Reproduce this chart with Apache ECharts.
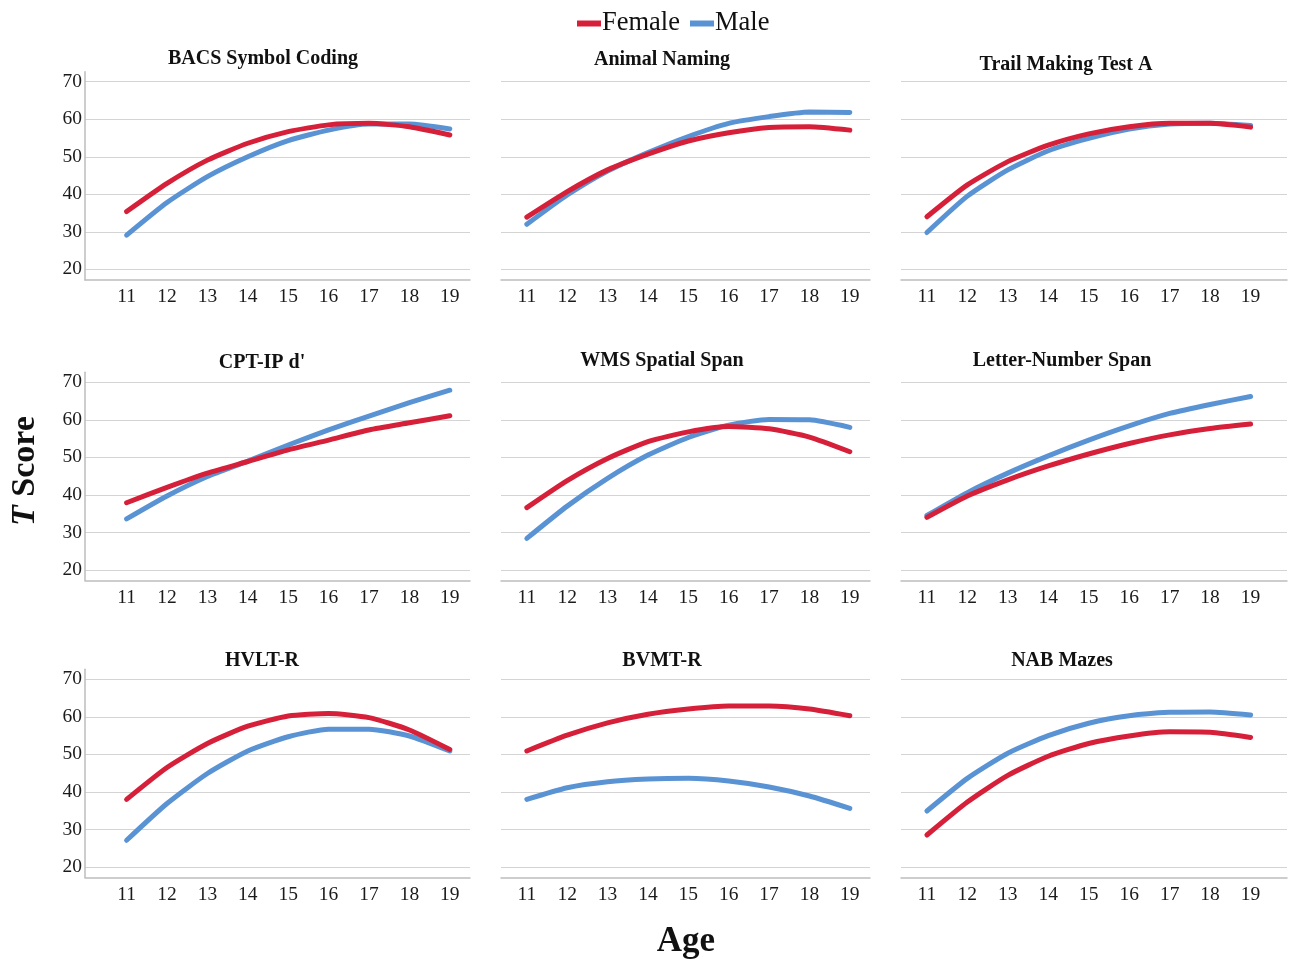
<!DOCTYPE html>
<html>
<head>
<meta charset="utf-8">
<script src="https://cdn.jsdelivr.net/npm/echarts@6/dist/echarts.min.js"></script>
<style>
html,body{margin:0;padding:0;background:#fff;}
#chart{width:1290px;height:960px;}
</style>
</head>
<body>
<div id="chart"></div>
<script>
// ---- data ----
const ages = [11, 12, 13, 14, 15, 16, 17, 18, 19];
const yTicks = [20, 30, 40, 50, 60, 70];
const panelTitles = ["BACS Symbol Coding", "Animal Naming", "Trail Making Test A",
  "CPT-IP d'", "WMS Spatial Span", "Letter-Number Span",
  "HVLT-R", "BVMT-R", "NAB Mazes"];
const seriesNames = ["Female", "Male"];

const femaleBACS   = [35.4, 42.9, 49.1, 53.6, 56.7, 58.5, 58.9, 58.0, 55.8];
const maleBACS     = [29.1, 37.8, 44.7, 50.0, 54.3, 57.1, 58.7, 58.7, 57.4];
const femaleAnimal = [33.9, 40.7, 46.5, 50.7, 54.2, 56.4, 57.8, 58.0, 57.1];
const maleAnimal   = [32.0, 39.8, 46.2, 51.1, 55.4, 58.9, 60.7, 61.9, 61.8];
const femaleTrail  = [34.0, 42.5, 48.7, 53.1, 56.1, 58.0, 58.9, 58.9, 57.9];
const maleTrail    = [29.8, 39.5, 46.5, 51.6, 54.9, 57.4, 58.7, 58.9, 58.3];
const femaleCPT    = [37.9, 42.0, 45.8, 48.9, 52.0, 54.6, 57.3, 59.2, 61.1];
const maleCPT      = [33.6, 39.7, 44.9, 49.0, 53.3, 57.3, 61.0, 64.6, 67.9];
const femaleWMS    = [36.6, 43.8, 49.7, 54.2, 56.8, 58.2, 57.6, 55.4, 51.5];
const maleWMS      = [28.4, 37.0, 44.4, 50.6, 55.3, 58.6, 60.1, 60.0, 58.0];
const femaleLNS    = [34.0, 39.7, 44.0, 47.7, 50.9, 53.7, 56.0, 57.7, 58.9];
const maleLNS      = [34.5, 40.6, 45.8, 50.4, 54.6, 58.4, 61.7, 64.1, 66.2];
const femaleHVLT   = [38.0, 46.5, 52.9, 57.5, 60.2, 60.9, 59.8, 56.5, 51.3];
const maleHVLT     = [27.1, 36.9, 44.9, 50.9, 54.7, 56.7, 56.7, 54.9, 50.9];
const femaleBVMT   = [50.9, 55.1, 58.4, 60.7, 62.1, 62.9, 62.9, 62.1, 60.3];
const maleBVMT     = [38.0, 41.1, 42.7, 43.4, 43.6, 42.9, 41.3, 38.9, 35.6];
const femaleNAB    = [28.5, 37.3, 44.4, 49.5, 52.9, 54.9, 56.0, 55.9, 54.5];
const maleNAB      = [34.9, 43.6, 50.3, 55.0, 58.3, 60.3, 61.2, 61.3, 60.5];

const femaleAll = [femaleBACS, femaleAnimal, femaleTrail, femaleCPT, femaleWMS, femaleLNS, femaleHVLT, femaleBVMT, femaleNAB];
const maleAll   = [maleBACS, maleAnimal, maleTrail, maleCPT, maleWMS, maleLNS, maleHVLT, maleBVMT, maleNAB];

// ---- layout / style ----
const FONT = "'Liberation Serif', 'Times New Roman', serif";
const RED = '#D62039';
const BLUE = '#5A93D4';
const colLeft = [85, 501, 901];
const colWidth = [385, 369, 386];
const colXMin = [9.97, 10.36, 10.36];
const colXMax = [19.5, 19.5, 19.9];
const rowTop = [71.7, 372.3, 669.3];
const rowHeight = 208.3;
const Y_MIN = 17.15, Y_MAX = 72.67;
const titlePos = [[263, 59], [662, 60], [1066, 65], [262, 363], [662, 361], [1062, 361], [262, 661], [662, 661], [1062, 661]];

const grids = [], xAxes = [], yAxes = [], series = [], graphics = [];
for (let p = 0; p < 9; p++) {
  const r = Math.floor(p / 3), c = p % 3;
  grids.push({ left: colLeft[c], top: rowTop[r], width: colWidth[c], height: rowHeight, containLabel: false, outerBoundsMode: 'none' });
  xAxes.push({
    type: 'value', gridIndex: p, min: colXMin[c], max: colXMax[c],
    minInterval: 1, maxInterval: 1,
    axisLine: { show: true, lineStyle: { color: '#bdbdbd', width: 1.5 } },
    axisTick: { show: false },
    splitLine: { show: false },
    axisLabel: {
      show: true, margin: 7, color: '#1a1a1a', fontFamily: FONT, fontSize: 19.5,
      showMinLabel: false, showMaxLabel: false,
      formatter: v => ages.indexOf(Math.round(v)) >= 0 && Math.abs(v - Math.round(v)) < 1e-6 ? String(Math.round(v)) : ''
    }
  });
  yAxes.push({
    type: 'value', gridIndex: p, min: Y_MIN, max: Y_MAX,
    minInterval: 10, maxInterval: 10,
    axisLine: { show: c === 0, lineStyle: { color: '#bdbdbd', width: 1.5 } },
    axisTick: { show: false },
    splitLine: { show: true, showMinLine: false, showMaxLine: false, lineStyle: { color: '#d4d4d4', width: 1.2 } },
    axisLabel: {
      show: c === 0, margin: 3, color: '#1a1a1a', fontFamily: FONT, fontSize: 19.5,
      showMinLabel: false, showMaxLabel: false,
      formatter: v => {
        const k = Math.round(v);
        return yTicks.indexOf(k) >= 0 && Math.abs(v - k) < 1e-6 ? String(k) : '';
      }
    }
  });
  series.push({
    name: seriesNames[1], type: 'line', xAxisIndex: p, yAxisIndex: p,
    data: ages.map((a, i) => [a, maleAll[p][i]]),
    showSymbol: false, smooth: 0.2, lineStyle: { width: 5, color: BLUE, cap: 'round' }, itemStyle: { color: BLUE }
  });
  series.push({
    name: seriesNames[0], type: 'line', xAxisIndex: p, yAxisIndex: p,
    data: ages.map((a, i) => [a, femaleAll[p][i]]),
    showSymbol: false, smooth: 0.2, lineStyle: { width: 5, color: RED, cap: 'round' }, itemStyle: { color: RED }
  });
  graphics.push({
    type: 'text', x: titlePos[p][0], y: titlePos[p][1],
    style: { text: panelTitles[p], fill: '#111', font: 'bold 20px ' + FONT, align: 'center', verticalAlign: 'middle' }
  });
}

graphics.push({
  type: 'text', x: 25, y: 471, rotation: Math.PI / 2,
  style: {
    text: '{i|T} Score', fill: '#111', font: 'bold 34px ' + FONT, align: 'center', verticalAlign: 'middle',
    rich: { i: { fontStyle: 'italic', fontWeight: 'bold', fontSize: 34, fontFamily: FONT, fill: '#111' } }
  }
});
graphics.push({
  type: 'text', x: 686, y: 942,
  style: { text: 'Age', fill: '#111', font: 'bold 35px ' + FONT, align: 'center', verticalAlign: 'middle' }
});

const chart = echarts.init(document.getElementById('chart'), null, { renderer: 'canvas' });
chart.setOption({
  backgroundColor: '#ffffff',
  animation: false,
  legend: {
    data: seriesNames, left: 572, top: 5, itemWidth: 24, itemHeight: 6, itemGap: 10,
    icon: 'rect',
    textStyle: { fontFamily: FONT, fontSize: 26.5, color: '#111', padding: [0, 0, 0, -4] }
  },
  color: [RED, BLUE],
  grid: grids,
  xAxis: xAxes,
  yAxis: yAxes,
  series: series,
  graphic: graphics
});
</script>
</body>
</html>
